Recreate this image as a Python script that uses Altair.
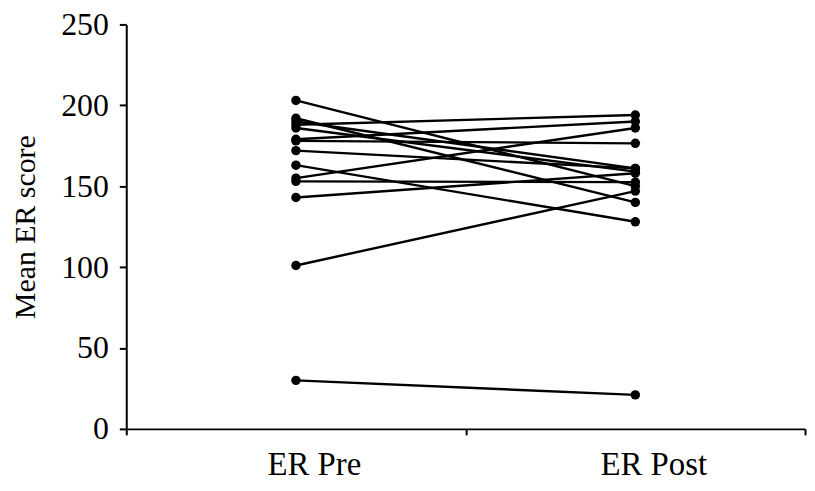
import altair as alt
import pandas as pd

phases = ["ER Pre", "ER Post"]
pre_scores = [203, 192, 190, 188, 186, 179, 178, 172, 163, 155, 153, 143, 101, 30]
post_scores = [150, 140, 161, 194, 159, 190, 176.5, 161, 128, 186, 152.5, 158, 147, 21]
y_ticks = [0, 50, 100, 150, 200, 250]

rows = []
for i, (a, b) in enumerate(zip(pre_scores, post_scores)):
    rows.append({"id": i, "phase": phases[0], "score": a})
    rows.append({"id": i, "phase": phases[1], "score": b})
df = pd.DataFrame(rows)

FONT = "Liberation Serif"

x = alt.X(
    "phase:N",
    sort=phases,
    scale=alt.Scale(type="band", domain=phases, paddingInner=0, paddingOuter=0),
    axis=alt.Axis(
        title=None,
        labelAngle=0,
        tickBand="extent",
        tickSize=6,
        tickWidth=2,
        domainWidth=2,
        domainColor="black",
        tickColor="black",
        labelFont=FONT,
        labelFontSize=33,
        labelColor="black",
        labelPadding=14,
        labelOffset=18,
        grid=False,
    ),
)
y = alt.Y(
    "score:Q",
    scale=alt.Scale(domain=[0, 250], nice=False, zero=True),
    axis=alt.Axis(
        title="Mean ER score",
        values=y_ticks,
        tickSize=7,
        tickWidth=2,
        domainWidth=2,
        domainColor="black",
        tickColor="black",
        labelFont=FONT,
        labelFontSize=32,
        labelColor="black",
        labelPadding=11,
        titleFont=FONT,
        titleFontSize=30,
        titleFontWeight="normal",
        titleColor="black",
        titlePadding=20,
        grid=False,
    ),
)

lines = alt.Chart(df).mark_line(color="black", strokeWidth=2.4).encode(
    x=x, y=y, detail="id:N"
)
points = alt.Chart(df).mark_point(
    filled=True, color="black", size=90, opacity=1, shape="circle"
).encode(x=x, y=y)

chart = (
    alt.layer(lines, points)
    .properties(
        width=683,
        height=407,
        background="white",
        autosize=alt.AutoSizeParams(type="none"),
        padding={"left": 119, "top": 15, "right": 2, "bottom": 62},
    )
    .configure_view(stroke=None, strokeWidth=0)
)

chart.save("out.html", embed_options={"renderer": "svg", "actions": False})
